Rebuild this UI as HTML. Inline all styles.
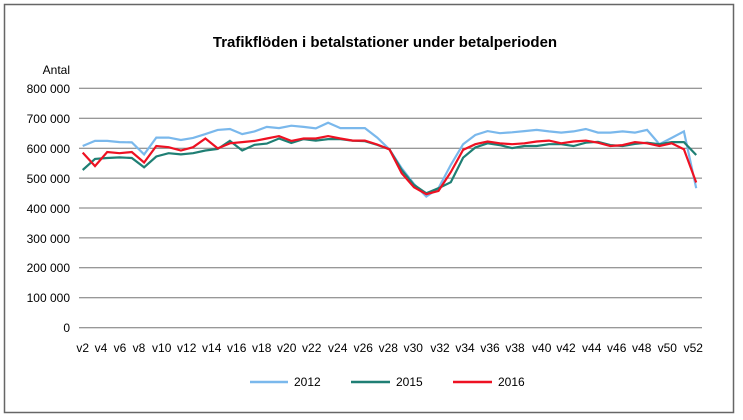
<!DOCTYPE html>
<html><head><meta charset="utf-8"><style>
body{margin:0;background:#fff}
svg{display:block;font-family:"Liberation Sans",sans-serif}
</style></head><body>
<svg width="743" height="420" xmlns="http://www.w3.org/2000/svg">
<rect x="4.5" y="4.5" width="729" height="408" fill="#fff" stroke="#666" stroke-width="1.5"/>
<text x="385" y="47" text-anchor="middle" font-size="15" font-weight="bold">Trafikflöden i betalstationer under betalperioden</text>
<text x="70" y="74" text-anchor="end" font-size="12">Antal</text>
<g stroke="#777" stroke-width="1">
<line x1="79" x2="702" y1="88.3" y2="88.3"/><line x1="79" x2="702" y1="118.3" y2="118.3"/>
<line x1="79" x2="702" y1="148.2" y2="148.2"/><line x1="79" x2="702" y1="178.1" y2="178.1"/>
<line x1="79" x2="702" y1="208" y2="208"/><line x1="79" x2="702" y1="237.9" y2="237.9"/>
<line x1="79" x2="702" y1="267.8" y2="267.8"/><line x1="79" x2="702" y1="297.8" y2="297.8"/>
<line x1="79" x2="702" y1="327.7" y2="327.7"/>
</g>
<g font-size="12" text-anchor="end">
<text x="70" y="93">800 000</text><text x="70" y="123">700 000</text><text x="70" y="153">600 000</text>
<text x="70" y="183">500 000</text><text x="70" y="213">400 000</text><text x="70" y="243">300 000</text>
<text x="70" y="272">200 000</text><text x="70" y="302">100 000</text><text x="70" y="332">0</text>
</g>
<g font-size="12" text-anchor="middle" id="xl"></g>
<polyline id="s12" fill="none" stroke="#7ab8ec" stroke-width="2.2"/>
<polyline id="s15" fill="none" stroke="#1f7f74" stroke-width="2.2"/>
<polyline id="s16" fill="none" stroke="#ee1122" stroke-width="2.2"/>
<line x1="250" x2="288" y1="382" y2="382" stroke="#7ab8ec" stroke-width="2.5"/>
<text x="294" y="386" font-size="12">2012</text>
<line x1="351" x2="390" y1="382" y2="382" stroke="#1f7f74" stroke-width="2.5"/>
<text x="396" y="386" font-size="12">2015</text>
<line x1="453" x2="492" y1="382" y2="382" stroke="#ee1122" stroke-width="2.5"/>
<text x="498" y="386" font-size="12">2016</text>
</svg>
<script>
var a=[607,624,624,620,619,579,635,635,627,634,647,661,664,647,656,671,667,675,671,666,685,667,667,667,635,596,533,480,438,466,544,613,644,657,650,653,657,661,656,652,656,664,652,652,656,652,661,613,634,656,466];
var b=[527,564,567,569,567,536,572,583,579,583,592,597,624,592,611,615,632,617,630,625,630,630,625,623,611,596,527,477,449,466,486,568,602,616,610,600,607,607,613,613,607,618,621,610,607,614,618,613,620,620,577];
var c=[585,540,587,583,587,552,607,603,592,603,632,599,616,620,624,632,640,624,632,632,640,632,625,625,612,596,516,469,446,457,520,594,613,622,616,613,616,622,625,616,622,625,618,607,610,620,616,607,616,596,485];
function pts(d){return d.map(function(v,i){return (82.7+12.27*i).toFixed(1)+","+(327.7-v*0.2993).toFixed(1)}).join(" ")}
document.getElementById("s12").setAttribute("points",pts(a));
document.getElementById("s15").setAttribute("points",pts(b));
document.getElementById("s16").setAttribute("points",pts(c));
var lx=[82.7,101,120,139,161.7,186.7,211.7,236.7,261.7,286.7,311.7,337.7,363.3,388.3,413.3,440,465,490,515,541.7,566,591.7,616.7,641.7,667.3,693.3];
var g=document.getElementById("xl"),s="";
lx.forEach(function(x,i){s+='<text x="'+x+'" y="352">v'+(2+2*i)+'</text>'});
g.innerHTML=s;
</script>
</body></html>
